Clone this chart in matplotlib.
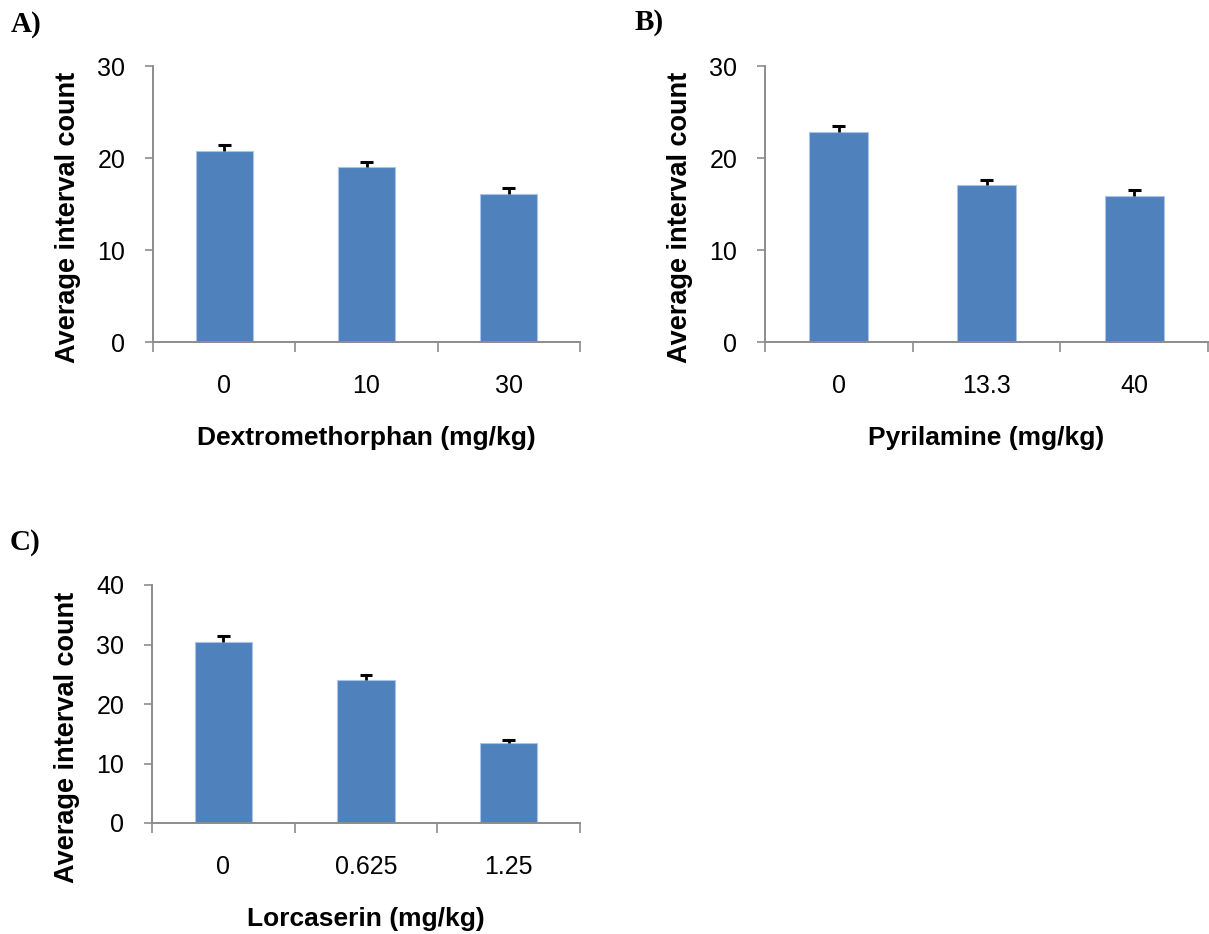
import matplotlib.pyplot as plt
from matplotlib.ticker import FixedLocator, NullFormatter

# data
dex_doses = ["0", "10", "30"]
dex_means = [20.8, 19.0, 16.1]
dex_err = [0.6, 0.55, 0.6]

pyr_doses = ["0", "13.3", "40"]
pyr_means = [22.8, 17.1, 15.9]
pyr_err = [0.7, 0.55, 0.6]

lor_doses = ["0", "0.625", "1.25"]
lor_means = [30.5, 24.0, 13.4]
lor_err = [0.95, 0.85, 0.55]

BAR = "#4F81BD"
EDGE = "#A9C4E8"
SPINE = "#8C8C8C"

plt.rcParams['font.family'] = ['Liberation Sans', 'DejaVu Sans']

W, H = 1209, 934
fig = plt.figure(figsize=(W / 100, H / 100), dpi=100)


def px_axes(x0, x1, ytop, ybot):
    return fig.add_axes([x0 / W, 1 - ybot / H, (x1 - x0) / W, (ybot - ytop) / H])


def panel(ax, doses, means, err, ymax, xlabel, ylab_y):
    xs = list(range(len(doses)))
    ax.bar(xs, means, width=0.4, color=BAR, edgecolor=EDGE, linewidth=0.8, zorder=2)
    # upper-only error bars with caps
    tops = [m + e for m, e in zip(means, err)]
    ax.vlines(xs, means, tops, color="black", linewidth=2, zorder=3)
    ax.hlines(tops, [x - 0.045 for x in xs], [x + 0.045 for x in xs],
              color="black", linewidth=2.2, zorder=3)
    ax.set_xlim(-0.5, len(doses) - 0.5)
    ax.set_ylim(0, ymax)
    ax.set_yticks(range(0, ymax + 1, 10))
    # excel-like ticks between categories, labels at the centres
    ax.xaxis.set_major_locator(FixedLocator([i - 0.5 for i in range(len(doses) + 1)]))
    ax.xaxis.set_major_formatter(NullFormatter())
    ax.xaxis.set_minor_locator(FixedLocator(xs))
    ax.set_xticklabels(doses, minor=True)
    ax.tick_params(axis="x", which="major", length=7, width=1.2, color=SPINE, direction="out")
    ax.tick_params(axis="x", which="minor", length=0, pad=23, labelsize=18)
    ax.tick_params(axis="y", length=6, width=1.2, color=SPINE, direction="out",
                   labelsize=18, pad=14)
    for s in ["top", "right"]:
        ax.spines[s].set_visible(False)
    for s in ["left", "bottom"]:
        ax.spines[s].set_color(SPINE)
        ax.spines[s].set_linewidth(1.4)
    ax.set_ylabel("Average interval count", fontsize=19.5, fontweight="bold", labelpad=12)
    ax.yaxis.label.set_y(ylab_y)  # label sits a bit low in the original
    ax.set_xlabel(xlabel, fontsize=19, fontweight="bold", labelpad=20)


axA = px_axes(153, 580, 66, 342)
panel(axA, dex_doses, dex_means, dex_err, 30, "Dextromethorphan (mg/kg)", 0.45)

axB = px_axes(765, 1208, 66, 342)
panel(axB, pyr_doses, pyr_means, pyr_err, 30, "Pyrilamine (mg/kg)", 0.45)

axC = px_axes(152, 580, 585, 823)
panel(axC, lor_doses, lor_means, lor_err, 40, "Lorcaserin (mg/kg)", 0.36)

for lab, x, y in [("A)", 11, 24), ("B)", 635, 22), ("C)", 10, 543)]:
    fig.text(x / W, 1 - y / H, lab, fontsize=21, fontweight="bold",
             family="Liberation Serif", va="center", ha="left")

fig.savefig("out.png", dpi=100)
